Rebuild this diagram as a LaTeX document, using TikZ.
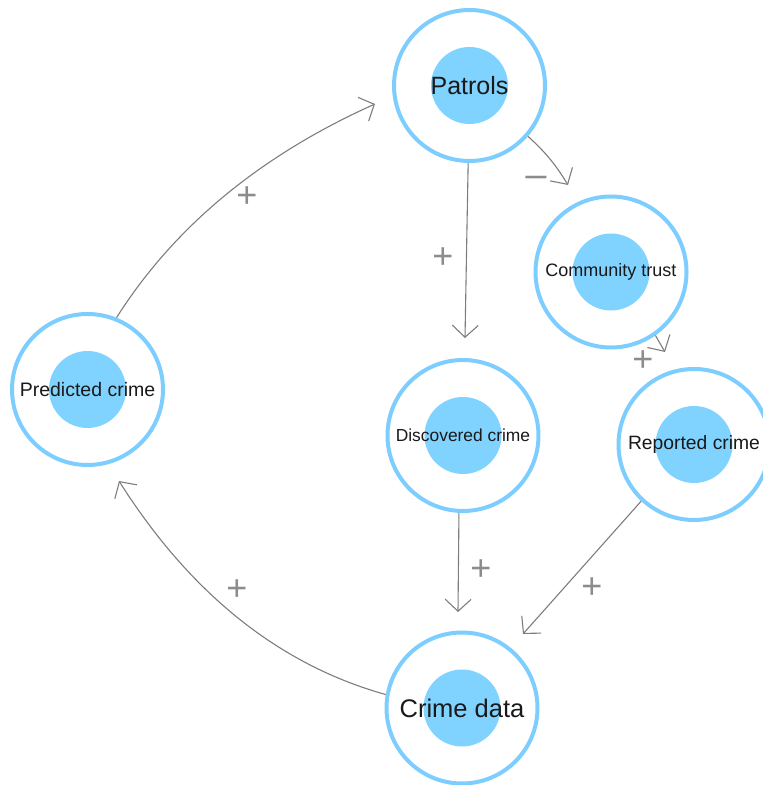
\documentclass[tikz,border=0pt]{standalone}
\usepackage{fontspec}
\setmainfont{Liberation Sans}
\usetikzlibrary{arrows.meta}
\definecolor{ringblue}{RGB}{125,206,255}
\definecolor{coreblue}{RGB}{128,211,255}
\definecolor{arrgray}{RGB}{125,125,125}
\definecolor{signgray}{RGB}{140,140,140}
\begin{document}
\begin{tikzpicture}[x=1pt,y=1pt,
  ring/.style={circle,draw=ringblue,line width=4pt,minimum size=151pt,inner sep=0pt,text=black!90},
  core/.style={circle,fill=coreblue,minimum size=77pt,inner sep=0pt},
  arr/.style={draw=arrgray,line width=1.1pt,-{Straight Barb[length=12pt,width=26pt,line width=1.1pt]}},
  sign/.style={text=signgray,font=\fontsize{36}{36}\selectfont,inner sep=0pt}]
\useasboundingbox (0,0) rectangle (763,785);
\clip (0,0) rectangle (763,785);
% inner discs
\node[core] (patrolsC) at (469.5,699.5) {};
\node[core] (trustC) at (611,513) {};
\node[core] (predC) at (87.5,395.5) {};
\node[core] (discC) at (463,349.5) {};
\node[core] (repC) at (694,340.5) {};
\node[core] (dataC) at (462,77) {};
% rings with text
\node[ring,font=\fontsize{25}{25}\selectfont] (patrols) at (469.5,699.5) {Patrols};
\node[ring,font=\fontsize{18}{18}\selectfont] (trust) at (611,513) {Community trust};
\node[ring,font=\fontsize{19.5}{19.5}\selectfont] (pred) at (87.5,395.5) {Predicted crime};
\node[ring,font=\fontsize{17.4}{17.4}\selectfont] (disc) at (463,349.5) {Discovered crime};
\node[ring,font=\fontsize{19.3}{19.3}\selectfont] (rep) at (694,340.5) {Reported crime};
\node[ring,font=\fontsize{25.5}{25.5}\selectfont] (data) at (462,77) {Crime data};
% arrow tips
\coordinate (tipPat) at (375,681);
\coordinate (tipDisc) at (465,447);
\coordinate (tipTrust) at (568,600);
\coordinate (tipRep) at (665,433);
\coordinate (tipData1) at (458,173);
\coordinate (tipData2) at (523,151);
\coordinate (tipPred) at (119,304);
% connectors
\draw[arr] (pred.68) .. controls (174.3,558.5) and (260.3,629.5) .. (tipPat);
\draw[arr] (patrols.269) -- (tipDisc);
\draw[arr] (patrols.-41) to[bend left=8] (tipTrust);
\draw[arr] (trust.-55) -- (tipRep);
\draw[arr] (disc.-93) -- (tipData1);
\draw[arr] (rep.-133) -- (tipData2);
\draw[arr] (data.170) .. controls (278.7,120.4) and (190.1,191.7) .. (tipPred);
% signs
\node[sign] (s1) at (247,588) {+};
\node[sign] (s2) at (443,527) {+};
\node[sign,xscale=1.2] (s3) at (536,602) {−};
\node[sign] (s4) at (643,424) {+};
\node[sign] (s5) at (481,215) {+};
\node[sign] (s6) at (592,197) {+};
\node[sign] (s7) at (237,195) {+};
\end{tikzpicture}
\end{document}
